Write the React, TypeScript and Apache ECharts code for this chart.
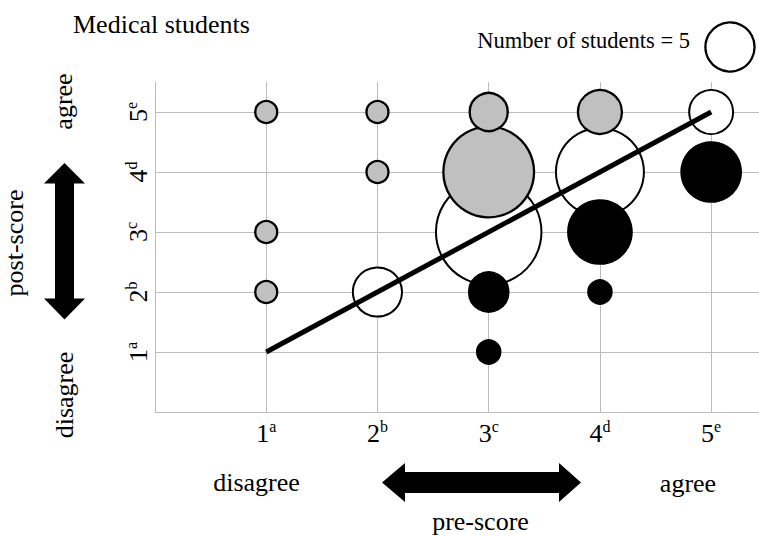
import React, { useEffect, useRef } from "react";
import * as echarts from "echarts";

// Score levels (tick labels)
const scoreValues = [1, 2, 3, 4, 5];
const scoreLabels = ["1", "2", "3", "4", "5"];
const scoreSuperscripts = ["a", "b", "c", "d", "e"];

// Improved (post > pre): grey bubbles
const greyPre = [1, 1, 1, 2, 2, 3, 3, 4];
const greyPost = [5, 3, 2, 5, 4, 4, 5, 5];
const greyCount = [1, 1, 1, 1, 1, 17, 3, 4];

// Unchanged (post = pre): white bubbles
const whitePre = [2, 3, 4, 5];
const whitePost = [2, 3, 4, 5];
const whiteCount = [5, 23, 16, 4];

// Decreased (post < pre): black bubbles
const blackPre = [3, 3, 4, 4, 5];
const blackPost = [2, 1, 3, 2, 4];
const blackCount = [3, 1, 8, 1, 7];

// Diagonal reference line
const linePre = [1, 5];
const linePost = [1, 5];

const legendCount = 5;
const legendText = "Number of students = 5";
const titleText = "Medical students";

const FONT = "'Liberation Serif', 'Times New Roman', serif";

const sizeOf = (n: number) => 22 * Math.sqrt(n);

const fmt = (v: number) => {
  const i = scoreValues.indexOf(v);
  if (i < 0) return "";
  return `{n|${scoreLabels[i]}}{s|${scoreSuperscripts[i]}}`;
};

const rich = {
  n: { fontSize: 26, lineHeight: 30, fontFamily: FONT, color: "#000" },
  s: { fontSize: 16, lineHeight: 16, fontFamily: FONT, color: "#000", verticalAlign: "top" },
};

export default function App() {
  const ref = useRef<HTMLDivElement>(null);
  useEffect(() => {
    if (!ref.current) return;
    const chart = echarts.init(ref.current, null, { renderer: "svg" });
    const zip = (xs: number[], ys: number[], cs: number[]) =>
      xs.map((x, i) => [x, ys[i], cs[i]]);
    const gridColor = "#bdbdbd";
    const legendR = sizeOf(legendCount) / 2;
    chart.setOption({
      animation: false,
      grid: { left: 155, top: 82, right: 0, bottom: 124 },
      xAxis: {
        type: "value",
        min: 0,
        max: 5.43,
        interval: 1,
        axisLine: { show: true, lineStyle: { color: gridColor, width: 1 } },
        axisTick: { show: false },
        splitLine: { show: true, showMaxLine: false, lineStyle: { color: gridColor, width: 1 } },
        axisLabel: { formatter: fmt, rich, margin: 6, showMaxLabel: false },
      },
      yAxis: {
        type: "value",
        min: 0,
        max: 5.5,
        interval: 1,
        axisLine: { show: true, lineStyle: { color: gridColor, width: 1 } },
        axisTick: { show: false },
        splitLine: { show: true, showMaxLine: false, lineStyle: { color: gridColor, width: 1 } },
        axisLabel: { formatter: fmt, rich, margin: 2, rotate: 90, showMaxLabel: false },
      },
      series: [
        {
          type: "scatter",
          data: zip(whitePre, whitePost, whiteCount),
          symbolSize: (d: number[]) => sizeOf(d[2]),
          itemStyle: { color: "#ffffff", borderColor: "#000", borderWidth: 2, opacity: 1 },
        },
        {
          type: "scatter",
          data: zip(greyPre, greyPost, greyCount),
          symbolSize: (d: number[]) => sizeOf(d[2]),
          itemStyle: { color: "#c0c0c0", borderColor: "#000", borderWidth: 2.3, opacity: 1 },
        },
        {
          type: "scatter",
          data: zip(blackPre, blackPost, blackCount),
          symbolSize: (d: number[]) => sizeOf(d[2]),
          itemStyle: { color: "#000", borderColor: "#000", borderWidth: 3.5, opacity: 1 },
        },
        {
          type: "line",
          data: linePre.map((x, i) => [x, linePost[i]]),
          symbol: "none",
          lineStyle: { color: "#000", width: 5, cap: "butt" },
        },
      ],
      graphic: [
        {
          type: "text",
          x: 73,
          y: 24,
          style: { text: titleText, font: `26px ${FONT}`, fill: "#000", textAlign: "left", textVerticalAlign: "middle" },
        },
        {
          type: "text",
          x: 690,
          y: 40.5,
          style: { text: legendText, font: `22.5px ${FONT}`, fill: "#000", textAlign: "right", textVerticalAlign: "middle" },
        },
        {
          type: "circle",
          shape: { cx: 730, cy: 47, r: legendR },
          style: { fill: "#fff", stroke: "#000", lineWidth: 2.3 },
        },
        {
          type: "text",
          x: 63,
          y: 101.5,
          rotation: Math.PI / 2,
          style: { text: "agree", font: `26px ${FONT}`, fill: "#000", textAlign: "center", textVerticalAlign: "middle" },
        },
        {
          type: "text",
          x: 14,
          y: 243,
          rotation: Math.PI / 2,
          style: { text: "post-score", font: `26px ${FONT}`, fill: "#000", textAlign: "center", textVerticalAlign: "middle" },
        },
        {
          type: "text",
          x: 64,
          y: 395,
          rotation: Math.PI / 2,
          style: { text: "disagree", font: `26px ${FONT}`, fill: "#000", textAlign: "center", textVerticalAlign: "middle" },
        },
        {
          type: "polygon",
          shape: {
            points: [
              [64.5, 163], [85, 183.5], [74, 183.5], [74, 298.5], [85, 298.5],
              [64.5, 319.5], [44, 298.5], [55, 298.5], [55, 183.5], [44, 183.5],
            ],
          },
          style: { fill: "#000" },
        },
        {
          type: "text",
          x: 256.5,
          y: 482,
          style: { text: "disagree", font: `26px ${FONT}`, fill: "#000", textAlign: "center", textVerticalAlign: "middle" },
        },
        {
          type: "text",
          x: 688,
          y: 483,
          style: { text: "agree", font: `26px ${FONT}`, fill: "#000", textAlign: "center", textVerticalAlign: "middle" },
        },
        {
          type: "text",
          x: 480.5,
          y: 521,
          style: { text: "pre-score", font: `26px ${FONT}`, fill: "#000", textAlign: "center", textVerticalAlign: "middle" },
        },
        {
          type: "polygon",
          shape: {
            points: [
              [382, 482.5], [405, 463], [405, 472], [559, 472], [559, 463],
              [581, 482.5], [559, 502], [559, 493], [405, 493], [405, 502],
            ],
          },
          style: { fill: "#000" },
        },
      ],
    });
    return () => chart.dispose();
  }, []);
  return (
    <div
      ref={ref}
      style={{ position: "absolute", left: 0, top: 0, width: 759, height: 536, background: "#fff" }}
    />
  );
}
